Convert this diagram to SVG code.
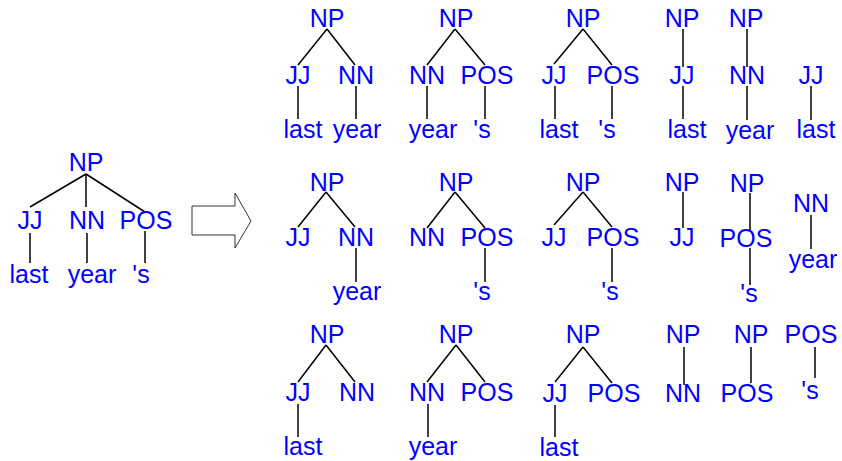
<svg xmlns="http://www.w3.org/2000/svg" width="842" height="461" viewBox="0 0 842 461">
  <style>
    text { font-family: "Liberation Sans", Arial, sans-serif; font-size: 25px; fill: #0000ff; text-anchor: middle; }
    .edges line { stroke: #000; stroke-width: 1.5; }
    .arrow { fill: #fff; stroke: #333; stroke-width: 1; }
  </style>
  <rect width="842" height="461" fill="#fff"/>

  <!-- tree edges -->
  <g id="edges" class="edges">
    <!-- source tree -->
    <line x1="86" y1="174" x2="30" y2="207"/>
    <line x1="86" y1="174" x2="86" y2="207"/>
    <line x1="86" y1="174" x2="145" y2="212"/>
    <line x1="30" y1="233" x2="30" y2="263"/>
    <line x1="87" y1="233" x2="87" y2="263"/>
    <line x1="145" y1="231" x2="145" y2="263"/>
    <!-- row 1 -->
    <line x1="327" y1="29" x2="298" y2="65"/>
    <line x1="327" y1="29" x2="355" y2="65"/>
    <line x1="298" y1="86" x2="298" y2="119"/>
    <line x1="356" y1="86" x2="356" y2="119"/>
    <line x1="455" y1="29" x2="427" y2="65"/>
    <line x1="455" y1="29" x2="485" y2="65"/>
    <line x1="427" y1="86" x2="427" y2="119"/>
    <line x1="485" y1="86" x2="485" y2="119"/>
    <line x1="583" y1="29" x2="554" y2="64"/>
    <line x1="583" y1="29" x2="612" y2="65"/>
    <line x1="555" y1="86" x2="555" y2="119"/>
    <line x1="612" y1="86" x2="612" y2="119"/>
    <line x1="683" y1="29" x2="683" y2="67"/>
    <line x1="683" y1="86" x2="683" y2="119"/>
    <line x1="747" y1="29" x2="747" y2="67"/>
    <line x1="747" y1="86" x2="747" y2="120"/>
    <line x1="811" y1="86" x2="811" y2="120"/>
    <!-- row 2 -->
    <line x1="326" y1="192" x2="298" y2="227"/>
    <line x1="326" y1="192" x2="355" y2="227"/>
    <line x1="356" y1="248" x2="356" y2="282"/>
    <line x1="455" y1="192" x2="427" y2="228"/>
    <line x1="455" y1="192" x2="485" y2="228"/>
    <line x1="485" y1="248" x2="485" y2="282"/>
    <line x1="583" y1="192" x2="554" y2="225"/>
    <line x1="583" y1="192" x2="612" y2="227"/>
    <line x1="612" y1="248" x2="612" y2="282"/>
    <line x1="683" y1="192" x2="683" y2="228"/>
    <line x1="750" y1="193" x2="750" y2="230"/>
    <line x1="750" y1="248" x2="750" y2="285"/>
    <line x1="811" y1="215" x2="811" y2="249"/>
    <!-- row 3 -->
    <line x1="326" y1="345" x2="298" y2="382"/>
    <line x1="326" y1="345" x2="355" y2="382"/>
    <line x1="298" y1="404" x2="298" y2="437"/>
    <line x1="456" y1="345" x2="427" y2="382"/>
    <line x1="456" y1="345" x2="485" y2="382"/>
    <line x1="428" y1="404" x2="428" y2="437"/>
    <line x1="583" y1="347" x2="555" y2="382"/>
    <line x1="583" y1="347" x2="612" y2="383"/>
    <line x1="555" y1="405" x2="555" y2="437"/>
    <line x1="684" y1="347" x2="684" y2="385"/>
    <line x1="751" y1="347" x2="751" y2="383"/>
    <line x1="815" y1="347" x2="815" y2="378"/>
  </g>

  <!-- block arrow -->
  <polygon class="arrow" points="192,206 235,206 235,193 251,221 235,248 235,235 192,235"/>

  <!-- source tree -->
  <g id="tree-src">
    <text id="src-np" x="86" y="171">NP</text>
    <text id="src-jj" x="30" y="229">JJ</text>
    <text id="src-nn" x="87" y="229">NN</text>
    <text id="src-pos" x="146" y="229">POS</text>
    <text id="src-last" x="29" y="283">last</text>
    <text id="src-year" x="92" y="283">year</text>
    <text id="src-s" x="141" y="283">'s</text>
  </g>

  <!-- row 1 -->
  <g id="tree-a1">
    <text id="a1-np" x="327" y="27">NP</text>
    <text id="a1-jj" x="298" y="84">JJ</text>
    <text id="a1-nn" x="356" y="84">NN</text>
    <text id="a1-last" x="303" y="138">last</text>
    <text id="a1-year" x="357" y="138">year</text>
  </g>
  <g id="tree-a2">
    <text id="a2-np" x="456" y="27">NP</text>
    <text id="a2-nn" x="427" y="84">NN</text>
    <text id="a2-pos" x="487" y="84">POS</text>
    <text id="a2-year" x="433" y="138">year</text>
    <text id="a2-s" x="482" y="138">'s</text>
  </g>
  <g id="tree-a3">
    <text id="a3-np" x="583" y="27">NP</text>
    <text id="a3-jj" x="554" y="84">JJ</text>
    <text id="a3-pos" x="613" y="84">POS</text>
    <text id="a3-last" x="559" y="138">last</text>
    <text id="a3-s" x="607" y="138">'s</text>
  </g>
  <g id="tree-a4">
    <text id="a4-np" x="682" y="27">NP</text>
    <text id="a4-jj" x="682" y="84">JJ</text>
    <text id="a4-last" x="687" y="138">last</text>
  </g>
  <g id="tree-a5">
    <text id="a5-np" x="746" y="27">NP</text>
    <text id="a5-nn" x="747" y="84">NN</text>
    <text id="a5-year" x="750" y="139">year</text>
  </g>
  <g id="tree-a6">
    <text id="a6-jj" x="811" y="84">JJ</text>
    <text id="a6-last" x="816" y="138">last</text>
  </g>

  <!-- row 2 -->
  <g id="tree-b1">
    <text id="b1-np" x="327" y="191">NP</text>
    <text id="b1-jj" x="298" y="246">JJ</text>
    <text id="b1-nn" x="356" y="246">NN</text>
    <text id="b1-year" x="357" y="300">year</text>
  </g>
  <g id="tree-b2">
    <text id="b2-np" x="456" y="191">NP</text>
    <text id="b2-nn" x="427" y="246">NN</text>
    <text id="b2-pos" x="487" y="246">POS</text>
    <text id="b2-s" x="482" y="300">'s</text>
  </g>
  <g id="tree-b3">
    <text id="b3-np" x="583" y="191">NP</text>
    <text id="b3-jj" x="554" y="246">JJ</text>
    <text id="b3-pos" x="613" y="246">POS</text>
    <text id="b3-s" x="610" y="300">'s</text>
  </g>
  <g id="tree-b4">
    <text id="b4-np" x="682" y="191">NP</text>
    <text id="b4-jj" x="682" y="246">JJ</text>
  </g>
  <g id="tree-b5">
    <text id="b5-np" x="747" y="192">NP</text>
    <text id="b5-pos" x="746" y="247">POS</text>
    <text id="b5-s" x="749" y="302">'s</text>
  </g>
  <g id="tree-b6">
    <text id="b6-nn" x="811" y="212">NN</text>
    <text id="b6-year" x="813" y="268">year</text>
  </g>

  <!-- row 3 -->
  <g id="tree-c1">
    <text id="c1-np" x="327" y="343">NP</text>
    <text id="c1-jj" x="298" y="401">JJ</text>
    <text id="c1-nn" x="357" y="401">NN</text>
    <text id="c1-last" x="303" y="455">last</text>
  </g>
  <g id="tree-c2">
    <text id="c2-np" x="456" y="343">NP</text>
    <text id="c2-nn" x="427" y="401">NN</text>
    <text id="c2-pos" x="487" y="401">POS</text>
    <text id="c2-year" x="433" y="455">year</text>
  </g>
  <g id="tree-c3">
    <text id="c3-np" x="583" y="343">NP</text>
    <text id="c3-jj" x="555" y="402">JJ</text>
    <text id="c3-pos" x="614" y="402">POS</text>
    <text id="c3-last" x="559" y="456">last</text>
  </g>
  <g id="tree-c4">
    <text id="c4-np" x="683" y="343">NP</text>
    <text id="c4-nn" x="683" y="402">NN</text>
  </g>
  <g id="tree-c5">
    <text id="c5-np" x="751" y="343">NP</text>
    <text id="c5-pos" x="747" y="402">POS</text>
  </g>
  <g id="tree-c6">
    <text id="c6-pos" x="811" y="343">POS</text>
    <text id="c6-s" x="810" y="399">'s</text>
  </g>
</svg>
